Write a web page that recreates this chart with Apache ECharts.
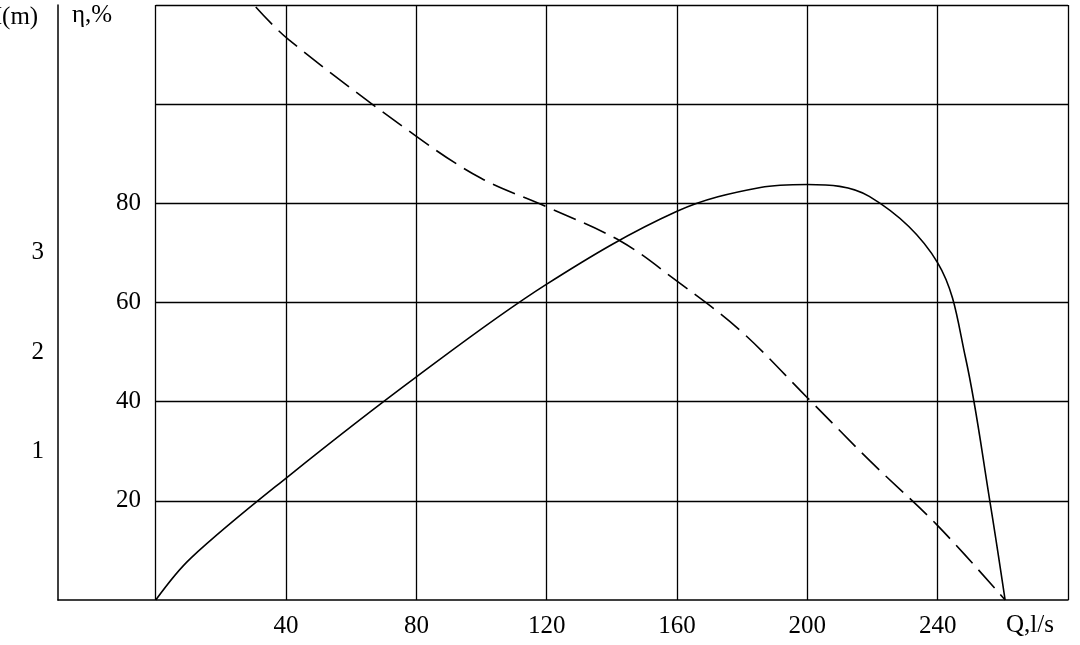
<!DOCTYPE html>
<html>
<head>
<meta charset="utf-8">
<script src="https://cdn.jsdelivr.net/npm/echarts@6/dist/echarts.min.js"></script>
<style>html,body{margin:0;padding:0;background:#fff}#chart{width:1080px;height:645px}</style>
</head>
<body>
<div id="chart"></div>
<script>
// Q, l/s i η, %
const qTicks = [0, 40, 80, 120, 160, 200, 240, 280];
const etaTicks = [20, 40, 60, 80, 100, 120];
const etaCurve = [[0, 0], [10.7, 8.4], [40.8, 25], [80, 45], [120, 63.7], [160, 78.4], [185.6, 83.2], [200, 83.8], [219, 81.4], [240, 68], [248.5, 49], [256, 20], [260.7, 0]];
const headCurve = [[30.7, 119.6], [40.8, 113], [80, 93.5], [100, 85], [119.6, 79.4], [142.6, 72.4], [160, 64.3], [179.5, 54.3], [200, 40.8], [219.3, 28], [240, 15], [260.7, 0]];

const font = "Liberation Serif";
const chart = echarts.init(document.getElementById("chart"));

const gridLines = [
    ...qTicks.map(q => [{ coord: [q, 0] }, { coord: [q, 120] }]),
    ...etaTicks.map(e => [{ coord: [0, e] }, { coord: [280, e] }])
];

chart.setOption({
    animation: false,
    grid: { left: 58, right: 12, top: 5, bottom: 45 },
    xAxis: {
        type: "value", min: -30, max: 280, interval: 10,
        axisLine: { lineStyle: { color: "#000", width: 1.5 } },
        axisTick: { show: false },
        splitLine: { show: false },
        axisLabel: {
            color: "#000", fontFamily: font, fontSize: 25, margin: 14,
            formatter: v => (v > 0 && v < 280 && v % 40 === 0) ? String(v) : ""
        }
    },
    yAxis: [{
        type: "value", min: 0, max: 120, interval: 20, offset: -95,
        axisLine: { show: false }, axisTick: { show: false }, splitLine: { show: false },
        axisLabel: {
            color: "#000", fontFamily: font, fontSize: 25, margin: 12,
            formatter: v => (v > 0 && v <= 80) ? String(v) : ""
        }
    }, {
        type: "value", position: "left", min: -0.5, max: 5.5, interval: 0.5,
        axisLine: { show: true, onZero: false, lineStyle: { color: "#000", width: 1.5 } },
        axisTick: { show: false }, splitLine: { show: false },
        axisLabel: {
            color: "#000", fontFamily: font, fontSize: 25, margin: 14,
            formatter: v => (v >= 1 && v <= 3 && v % 1 === 0) ? String(v) : ""
        }
    }],
    graphic: [
        { type: "text", left: 72, top: 3, style: { text: "η,%", font: "25px " + font, fill: "#000" } },
        { type: "text", left: -16, top: 5, style: { text: "H(m)", font: "25px " + font, fill: "#000" } },
        { type: "text", left: 1006, top: 613, style: { text: "Q,l/s", font: "25px " + font, fill: "#000" } }
    ],
    series: [{
        type: "line", data: [], silent: true,
        markLine: {
            silent: true, symbol: "none", label: { show: false },
            lineStyle: { color: "#000", width: 1.3, type: "solid" },
            data: gridLines
        }
    }, {
        name: "η", type: "line", data: etaCurve, smooth: 0.35, showSymbol: false,
        lineStyle: { color: "#000", width: 1.6 }
    }, {
        name: "H", type: "line", data: headCurve, smooth: 0.35, showSymbol: false,
        lineStyle: { color: "#000", width: 1.6, type: [24, 9] }
    }]
});
</script>
</body>
</html>
